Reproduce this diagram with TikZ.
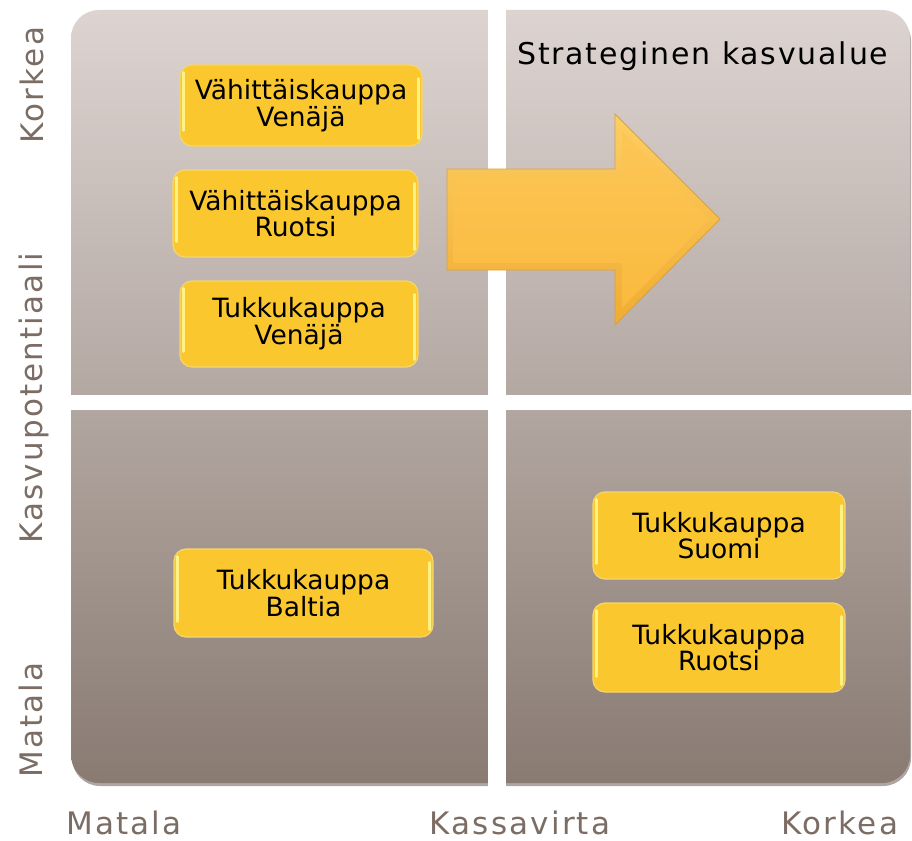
\documentclass[tikz,border=0pt]{standalone}
\usepackage{fontspec}
\setmainfont{DejaVu Sans}
\definecolor{panelTop}{RGB}{221,212,209}
\definecolor{panelMid}{RGB}{188,177,171}
\definecolor{panelBot}{RGB}{137,123,114}
\definecolor{panelShadow}{RGB}{105,92,85}
\definecolor{boxFill}{RGB}{250,199,46}
\definecolor{boxEdge}{RGB}{245,214,110}
\definecolor{boxGloss}{RGB}{255,242,130}
\definecolor{axisGray}{RGB}{123,108,100}
\definecolor{arrowEdge}{RGB}{222,160,55}
\definecolor{arrowTop}{RGB}{253,206,100}
\definecolor{arrowBot}{RGB}{240,172,50}
\definecolor{arrowInTop}{RGB}{252,198,86}
\definecolor{arrowInBot}{RGB}{250,186,62}
\tikzset{
  cell/.style={rectangle, rounded corners=12pt, fill=boxFill, draw=boxEdge,
    line width=1.2pt, align=center, text=black, inner sep=0pt,
    font=\fontsize{26.5}{24.5}\selectfont},
  glossline/.style={draw=boxGloss, line width=2.6pt, line cap=round},
  axislabel/.style={text=axisGray, inner sep=0pt,
    font=\fontsize{31}{36}\selectfont\addfontfeature{LetterSpace=7}},
  titlelabel/.style={text=black, inner sep=0pt,
    font=\fontsize{30}{36}\selectfont\addfontfeature{LetterSpace=6}}
}
\newcommand\glossbox[1]{%
  \draw[glossline] ([xshift=4pt,yshift=-8pt]#1.north west) -- ([xshift=4pt,yshift=16pt]#1.south west);
  \draw[glossline] ([xshift=-4pt,yshift=-14pt]#1.north east) -- ([xshift=-4pt,yshift=8pt]#1.south east);
}
\begin{document}
\begin{tikzpicture}[x=1pt,y=-1pt]
\useasboundingbox (0,0) rectangle (912,840);
% panel with shadow
\fill[panelShadow, opacity=0.55, rounded corners=28pt] (72,13) rectangle (911,786);
\shade[top color=panelTop, middle color=panelMid, bottom color=panelBot, rounded corners=28pt] (71,10) rectangle (910,783);
% white cross
\fill[white] (488,6) rectangle (506,788);
\fill[white] (66,395) rectangle (912,410);
% arrow
\shade[top color=arrowTop, bottom color=arrowBot, draw=arrowEdge, line width=0.8pt, line join=miter]
  (447,169) -- (615,169) -- (615,114) -- (720,219) -- (615,325) -- (615,270) -- (447,270) -- cycle;
\shade[top color=arrowInTop, bottom color=arrowInBot]
  (453,176) -- (622,176) -- (622,131) -- (709,219) -- (622,308) -- (622,263) -- (453,263) -- cycle;
% title
\node[titlelabel, anchor=base west] (title) at (517,65) {Strateginen kasvualue};
% boxes
\node[cell, minimum width=242pt, minimum height=81pt] (b1) at (301,105.5) {Vähittäiskauppa\\Venäjä};
\node[cell, minimum width=245pt, minimum height=87pt] (b2) at (295.5,213.5) {Vähittäiskauppa\\Ruotsi};
\node[cell, minimum width=238pt, minimum height=86pt] (b3) at (299,324) {Tukkukauppa\\Venäjä};
\node[cell, minimum width=259pt, minimum height=88pt] (b4) at (303.5,593) {Tukkukauppa\\Baltia};
\node[cell, minimum width=252pt, minimum height=87pt] (b5) at (719,535.5) {Tukkukauppa\\Suomi};
\node[cell, minimum width=252pt, minimum height=89pt] (b6) at (719,647.5) {Tukkukauppa\\Ruotsi};
\glossbox{b1}\glossbox{b2}\glossbox{b3}\glossbox{b4}\glossbox{b5}\glossbox{b6}
% axis labels
\node[axislabel, rotate=90, anchor=base] (yhigh) at (43,85) {Korkea};
\node[axislabel, rotate=90, anchor=base] (ytitle) at (42,398) {Kasvupotentiaali};
\node[axislabel, rotate=90, anchor=base] (ylow) at (42,720) {Matala};
\node[axislabel, anchor=base] (xlow) at (124,834) {Matala};
\node[axislabel, anchor=base] (xtitle) at (520,834) {Kassavirta};
\node[axislabel, anchor=base] (xhigh) at (840,834) {Korkea};
\end{tikzpicture}
\end{document}
